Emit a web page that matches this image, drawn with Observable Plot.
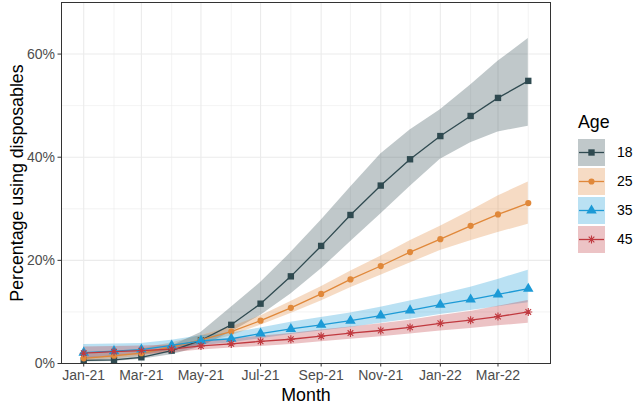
<!DOCTYPE html>
<html>
<head>
<meta charset="utf-8">
<script src="https://cdn.jsdelivr.net/npm/d3@7"></script>
<script src="https://cdn.jsdelivr.net/npm/@observablehq/plot@0.6"></script>
<style>
  html, body { margin: 0; padding: 0; background: white; }
  #wrap { position: relative; width: 634px; height: 406px; font-family: "Liberation Sans", Arial, sans-serif; }
  #legend { position: absolute; left: 0; top: 0; }
</style>
</head>
<body>
<div id="wrap"><div id="chart"></div><svg id="legend" width="634" height="406"></svg></div>
<script>
// ---- data ----
const months = ["2021-01","2021-02","2021-03","2021-04","2021-05","2021-06","2021-07","2021-08",
                "2021-09","2021-10","2021-11","2021-12","2022-01","2022-02","2022-03","2022-04"];
const ageGroups = ["18", "25", "35", "45"];
const colors = ["#2F4A50", "#E0883A", "#1C9AD6", "#C0393F"];

const pct18 = [0.6,0.7,1.2,2.5,4.5,7.5,11.6,16.9,22.8,28.8,34.5,39.6,44.1,48.0,51.5,54.8];
const lo18  = [0.3,0.4,0.8,1.7,3.2,6.1,9.3,13.5,18.3,23.6,29.0,34.3,39.6,42.8,44.9,46.0];
const hi18  = [1.2,1.3,1.8,3.4,6.0,10.9,15.7,21.5,27.8,34.2,40.6,45.3,49.2,54.0,58.6,63.0];

const pct25 = [1.0,1.5,2.0,3.2,4.6,6.2,8.3,10.8,13.5,16.3,18.9,21.6,24.1,26.7,28.9,31.1];
const lo25  = [0.5,0.9,1.4,2.5,3.8,5.4,7.4,9.7,12.1,14.7,17.1,19.5,21.9,23.8,25.4,27.0];
const hi25  = [1.8,2.2,2.8,4.0,5.4,7.1,9.2,12.0,14.9,17.9,20.8,23.8,26.6,29.6,32.5,35.2];

const pct35 = [2.1,2.4,2.7,3.5,4.4,4.8,5.8,6.7,7.5,8.3,9.3,10.3,11.4,12.4,13.4,14.5];
const lo35  = [0.8,1.3,1.8,2.6,3.5,4.0,4.8,5.6,6.3,7.0,7.8,8.6,9.5,10.3,11.0,11.8];
const hi35  = [3.7,3.8,3.9,4.5,5.4,5.9,6.9,8.0,8.9,9.8,10.9,12.1,13.4,14.8,16.3,18.1];

const pct45 = [2.0,2.3,2.5,2.8,3.4,3.8,4.3,4.7,5.3,5.9,6.4,7.0,7.8,8.4,9.1,10.0];
const lo45  = [1.0,1.4,1.7,2.1,2.6,3.0,3.3,3.7,4.2,4.7,5.2,5.7,6.3,6.8,7.3,7.8];
const hi45  = [3.2,3.3,3.4,3.6,4.2,4.7,5.3,5.8,6.5,7.1,7.7,8.4,9.3,10.1,11.1,12.2];

const yTicks = [0, 20, 40, 60];
const yMinor = [10, 30, 50];
const xTickMonths = ["2021-01","2021-03","2021-05","2021-07","2021-09","2021-11","2022-01","2022-03"];
const xMinorMonths = ["2021-02","2021-04","2021-06","2021-08","2021-10","2021-12","2022-02","2022-04"];
const xTitle = "Month";
const yTitle = "Percentage using disposables";
const legendTitle = "Age";

// ---- build ----
const parse = d3.utcParse("%Y-%m");
const dates = months.map(parse);
const series = {"18": [pct18, lo18, hi18], "25": [pct25, lo25, hi25], "35": [pct35, lo35, hi35], "45": [pct45, lo45, hi45]};
const rows = [];
ageGroups.forEach(a => {
  const [p, lo, hi] = series[a];
  dates.forEach((d, i) => rows.push({age: a, date: d, pct: p[i], lo: lo[i], hi: hi[i]}));
});
const colorOf = Object.fromEntries(ageGroups.map((a, i) => [a, colors[i]]));

const asterisk = {
  draw(ctx, size) {
    const r = Math.sqrt(size / Math.PI);
    const q = r * Math.SQRT1_2;
    ctx.moveTo(-r, 0); ctx.lineTo(r, 0);
    ctx.moveTo(0, -r); ctx.lineTo(0, r);
    ctx.moveTo(-q, -q); ctx.lineTo(q, q);
    ctx.moveTo(-q, q); ctx.lineTo(q, -q);
  }
};
const symbols = {"18": "square", "25": "circle", "35": "triangle", "45": asterisk};
const sizes = {"18": 3.6, "25": 3.1, "35": 3.9, "45": 4.0};

const span = dates[dates.length - 1] - dates[0];
const xDomain = [new Date(+dates[0] - span * 0.05), new Date(+dates[dates.length - 1] + span * 0.05)];

const marks = [
  Plot.ruleY(yMinor, {stroke: "#EBEBEB", strokeWidth: 0.6}),
  Plot.ruleX(xMinorMonths.map(parse), {stroke: "#EBEBEB", strokeWidth: 0.6}),
  Plot.ruleY(yTicks, {stroke: "#EBEBEB", strokeWidth: 1.1}),
  Plot.ruleX(xTickMonths.map(parse), {stroke: "#EBEBEB", strokeWidth: 1.1}),
];
ageGroups.forEach(a => marks.push(Plot.areaY(rows, {filter: d => d.age === a, x: "date", y1: "lo", y2: "hi", fill: colorOf[a], fillOpacity: 0.3})));
ageGroups.forEach(a => marks.push(Plot.line(rows, {filter: d => d.age === a, x: "date", y: "pct", stroke: colorOf[a], strokeWidth: 1.3})));
ageGroups.forEach(a => {
  if (a === "45") {
    marks.push(Plot.dot(rows, {filter: d => d.age === a, x: "date", y: "pct", symbol: symbols[a], r: sizes[a], stroke: colorOf[a], strokeWidth: 1.1, fill: "none"}));
  } else {
    marks.push(Plot.dot(rows, {filter: d => d.age === a, x: "date", y: "pct", symbol: symbols[a], r: sizes[a], fill: colorOf[a], stroke: "none"}));
  }
});
marks.push(
  Plot.frame({stroke: "#333333", strokeWidth: 1}),
  Plot.axisX({ticks: xTickMonths.map(parse), tickFormat: d3.utcFormat("%b-%y"), tickSize: 3.5, tickPadding: 3, label: null, fill: "#4D4D4D", stroke: "#333333", fontSize: 14}),
  Plot.axisY({ticks: yTicks, tickFormat: d => d + "%", tickSize: 3.5, tickPadding: 3, label: null, fill: "#4D4D4D", stroke: "#333333", fontSize: 14}),
  Plot.text([xTitle], {text: d => d, frameAnchor: "bottom", lineAnchor: "top", dy: 25, fontSize: 17.8, fill: "black"}),
  Plot.text([yTitle], {text: d => d, frameAnchor: "left", textAnchor: "middle", rotate: -90, lineAnchor: "middle", dx: -44, fontSize: 17.8, fill: "black"})
);

const chart = Plot.plot({
  width: 634, height: 406,
  marginLeft: 61, marginRight: 84, marginTop: 2, marginBottom: 43,
  x: {type: "utc", domain: xDomain},
  y: {domain: [0, 70]},
  style: {fontFamily: "'Liberation Sans', Arial, sans-serif", fontSize: "14px", background: "white"},
  marks
});
document.getElementById("chart").appendChild(chart);

// ---- legend ----
const lg = d3.select("#legend").style("font-family", "'Liberation Sans', Arial, sans-serif");
lg.append("text").attr("x", 578).attr("y", 128).attr("font-size", 17.8).attr("fill", "black").text(legendTitle);
ageGroups.forEach((a, i) => {
  const y0 = 139 + i * 29, kx = 578, ks = 27;
  const g = lg.append("g");
  g.append("rect").attr("x", kx).attr("y", y0).attr("width", ks).attr("height", ks).attr("fill", colorOf[a]).attr("fill-opacity", 0.3);
  g.append("line").attr("x1", kx + 1).attr("x2", kx + ks - 1).attr("y1", y0 + ks / 2).attr("y2", y0 + ks / 2).attr("stroke", colorOf[a]).attr("stroke-width", 1.3);
  const sym = d3.symbol().type(a === "45" ? asterisk : ({"18": d3.symbolSquare, "25": d3.symbolCircle, "35": d3.symbolTriangle})[a]).size(Math.PI * sizes[a] * sizes[a]);
  const p = g.append("path").attr("d", sym()).attr("transform", `translate(${kx + ks / 2},${y0 + ks / 2})`);
  if (a === "45") p.attr("fill", "none").attr("stroke", colorOf[a]).attr("stroke-width", 1.1);
  else p.attr("fill", colorOf[a]);
  g.append("text").attr("x", 617).attr("y", y0 + ks / 2).attr("dy", "0.35em").attr("font-size", 14).attr("fill", "black").text(a);
});
</script>
</body>
</html>
